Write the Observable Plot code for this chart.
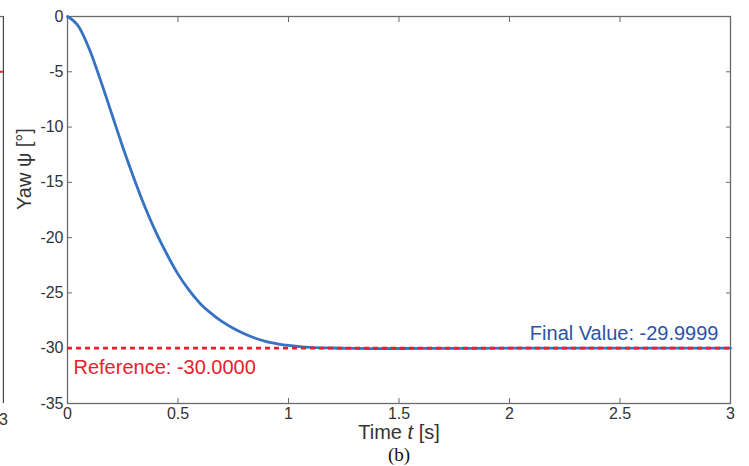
<!DOCTYPE html>
<html>
<head>
<meta charset="utf-8">
<script src="https://cdn.jsdelivr.net/npm/d3@7"></script>
<script src="https://cdn.jsdelivr.net/npm/@observablehq/plot@0.6"></script>
<style>
  html, body { margin: 0; padding: 0; background: white; }
</style>
</head>
<body>
<div id="chart"></div>
<script>
// ---- data ----
const time = [0, 0.05, 0.10, 0.15, 0.20, 0.25, 0.30, 0.35, 0.40, 0.45, 0.50, 0.55, 0.60, 0.65, 0.70, 0.75, 0.80, 0.85, 0.90, 0.95, 1.00, 1.05, 1.10, 1.20, 1.30, 1.40, 1.60, 2.00, 2.50, 3.00];
const yaw  = [0, -0.9, -3.0, -5.8, -8.8, -11.8, -14.6, -17.2, -19.5, -21.5, -23.3, -24.75, -25.95, -26.85, -27.6, -28.2, -28.7, -29.1, -29.4, -29.6, -29.75, -29.85, -29.92, -29.98, -30.02, -30.03, -30.02, -30.0, -30.0, -30.0];
const referenceValue = -30;
const finalLabel = "Final Value: -29.9999";
const referenceLabel = "Reference: -30.0000";
const xTicks = [0, 0.5, 1, 1.5, 2, 2.5, 3];
const yTicks = [0, -5, -10, -15, -20, -25, -30, -35];
const xLabel = "Time t [s]";
const yLabel = "Yaw ψ [°]";
const caption = "(b)";
// edge of the neighbouring panel (a), visible at the far left
const neighborEdgeX = [-0.29];
const neighborRefY = [-5];
const neighborTickLabel = ["3"];

const series = time.map((t, i) => ({t, v: yaw[i]}));
const xRange = [0, 3];
const yRange = [-35, 0];

const axisColor = "#6a6a6a";
const textColor = "#333333";
const blue = "#3672c4";
const red = "#e8202b";

const chart = Plot.plot({
  width: 749,
  height: 466,
  marginTop: 16,
  marginBottom: 63,
  marginLeft: 67,
  marginRight: 19,
  x: {domain: xRange},
  y: {domain: yRange},
  style: {fontFamily: "'Liberation Sans', Arial, Helvetica, sans-serif", fontSize: "16px", background: "white", color: textColor},
  marks: [
    // neighbour panel fragment
    Plot.ruleX(neighborEdgeX, {x: d => d, y1: yRange[1], y2: yRange[0], stroke: "#444", strokeWidth: 1.2}),
    Plot.ruleY([yRange[1]], {x1: neighborEdgeX[0] - 0.02, x2: neighborEdgeX[0], stroke: "#666", strokeWidth: 1.2}),
    Plot.ruleY(neighborRefY, {y: d => d, x1: neighborEdgeX[0] - 0.02, x2: neighborEdgeX[0], stroke: red, strokeWidth: 2}),
    Plot.text(neighborTickLabel, {x: neighborEdgeX[0], y: yRange[0], text: d => d, dy: 16, fill: textColor, fontSize: 16}),

    Plot.axisX({anchor: "bottom", ticks: xTicks, tickSize: -5, tickPadding: 9, tickFormat: d => String(d), label: null, stroke: axisColor, fill: textColor, fontSize: 16}),
    Plot.axisX({anchor: "top", ticks: xTicks, tickSize: -5, tickFormat: () => "", label: null, stroke: axisColor}),
    Plot.axisY({anchor: "left", ticks: yTicks, tickSize: -5, tickPadding: 9, tickFormat: d => String(d), label: null, stroke: axisColor, fill: textColor, fontSize: 16}),
    Plot.axisY({anchor: "right", ticks: yTicks, tickSize: -5, tickFormat: () => "", label: null, stroke: axisColor}),
    Plot.frame({stroke: axisColor, strokeWidth: 1.3}),

    Plot.line(series, {x: "t", y: "v", stroke: blue, strokeWidth: 2.8, curve: "monotone-x"}),
    Plot.ruleY([referenceValue], {x1: xRange[0], x2: xRange[1], stroke: red, strokeWidth: 2.8, strokeDasharray: "5,4"}),

    Plot.text([finalLabel], {x: xRange[1], y: referenceValue, text: d => d, textAnchor: "end", lineAnchor: "bottom", dx: -12, dy: -8, fill: "#2c52a8", fontSize: 20}),
    Plot.text([referenceLabel], {x: xRange[0], y: referenceValue, text: d => d, textAnchor: "start", lineAnchor: "bottom", dx: 6, dy: 26, fill: red, fontSize: 20}),

    Plot.text([xLabel], {frameAnchor: "bottom", text: d => d, lineAnchor: "bottom", dy: 35, fill: textColor, fontSize: 20}),
    Plot.text([yLabel], {frameAnchor: "left", text: d => d, rotate: -90, lineAnchor: "middle", dx: -43, fill: textColor, fontSize: 20}),
    Plot.text([caption], {frameAnchor: "bottom", text: d => d, lineAnchor: "bottom", dy: 57, fill: "#111", fontSize: 19, fontFamily: "'Liberation Serif', 'Times New Roman', serif"})
  ]
});

document.getElementById("chart").appendChild(chart);

// italic "t" in the x-axis label
chart.querySelectorAll("text").forEach(el => {
  if (el.textContent === xLabel) {
    el.textContent = "";
    const parts = [["Time ", null], ["t", "italic"], [" [s]", null]];
    for (const [s, style] of parts) {
      const ts = document.createElementNS("http://www.w3.org/2000/svg", "tspan");
      ts.textContent = s;
      if (style) ts.setAttribute("font-style", style);
      el.appendChild(ts);
    }
  }
});
</script>
</body>
</html>
